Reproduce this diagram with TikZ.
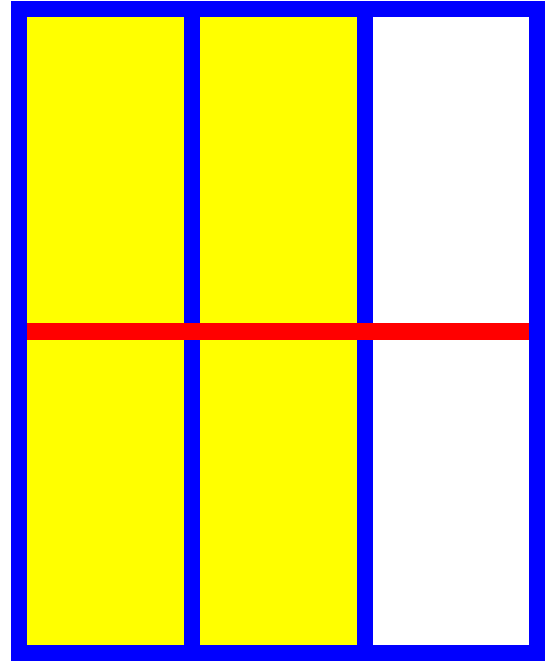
\documentclass[tikz,border=0pt]{standalone}
\begin{document}
\begin{tikzpicture}[x=1pt,y=1pt,
  cell/.style={fill={rgb,255:red,255;green,255;blue,0}},
  blueline/.style={draw={rgb,255:red,0;green,0;blue,255},line width=16pt},
  redline/.style={draw={rgb,255:red,255;green,0;blue,0},line width=16.5pt}]
\useasboundingbox (0,0) rectangle (544,663);
% yellow columns
\fill[cell] (19,10) rectangle (364.6,654);
% inner vertical blue lines
\draw[blueline] (191.8,10) -- (191.8,654);
\draw[blueline] (364.6,10) -- (364.6,654);
% red horizontal line
\draw[redline] (19,331.5) -- (537.4,331.5);
% outer frame
\draw[blueline] (19,10) rectangle (537.4,654);
\end{tikzpicture}
\end{document}
